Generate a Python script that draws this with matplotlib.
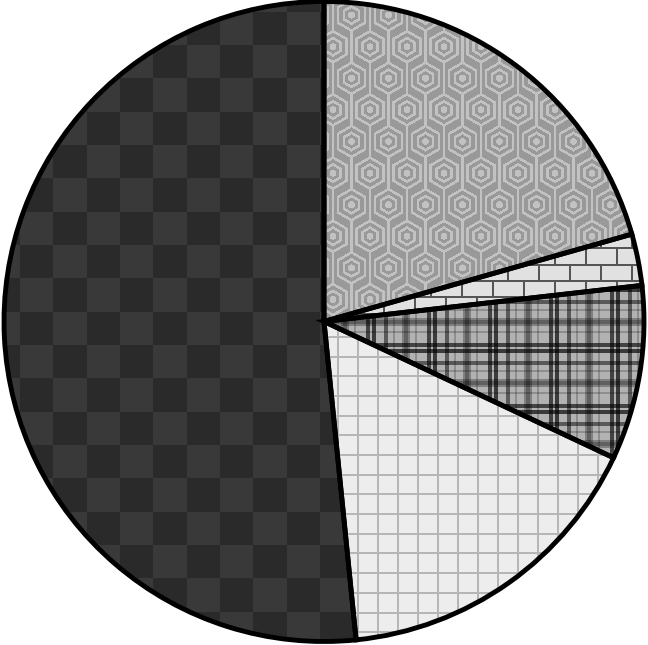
import numpy as np
import matplotlib
matplotlib.use("Agg")
import matplotlib.pyplot as plt

# ---- data ----
labels = ["Hexagons", "Bricks", "Plaid", "Grid", "Checkerboard"]
values = [20.6, 2.6, 8.8, 16.4, 51.6]

W, H = 648, 645
CX, CY, R = 324.0, 321.5, 320.0

fig = plt.figure(figsize=(6.48, 6.45), dpi=100)
ax = fig.add_axes([0, 0, 1, 1])

wedges, _ = ax.pie(values, labels=None, startangle=-90, counterclock=True,
                   center=(CX, CY), radius=R,
                   wedgeprops=dict(facecolor="none", edgecolor="black",
                                   linewidth=3.5, zorder=3))

# ---- textures (pixel space) ----
X, Y = np.meshgrid(np.arange(W) + 0.5, np.arange(H) + 0.5)


def gray(a):
    a = np.clip(a, 0, 255).astype(np.uint8)
    return np.dstack([a, a, a])


def hex_tex():
    def hexnorm(dx, dy):
        adx, ady = np.abs(dx), np.abs(dy)
        return np.maximum(adx * 2 / np.sqrt(3), adx / np.sqrt(3) + ady)

    px, py = 37.0, 63.2
    hs = []
    for x0, y0 in [(370.0, 46.7), (351.5, 78.3)]:
        dx = np.mod(X - x0 + px / 2, px) - px / 2
        dy = np.mod(Y - y0 + py / 2, py) - py / 2
        hs.append((hexnorm(dx, dy), np.hypot(dx, dy)))
    h = np.minimum(hs[0][0], hs[1][0])
    r = np.minimum(hs[0][1], hs[1][1])
    lw = 1.5
    ro, ri = 15.5, 8.6
    light = (np.abs(h - ro) < lw) | (np.abs(h - ri) < lw) | (r < 3.5)
    col = np.mod(X - 370.0 + 9.25, 18.5) - 9.25
    light |= (np.abs(col) < lw) & (h > ro)
    a = np.where(light, 194, 153)
    return gray(a)


def brick_tex():
    bh, bw = 16.3, 31.0
    ty = Y - 247.3
    row = np.floor(ty / bh)
    mort_h = np.mod(ty, bh) < 2.0
    off = 555.0 - np.where(np.mod(row, 2) == 1, 15.5, 0.0)
    mort_v = np.mod(X - off + 1.0, bw) < 2.0
    a = np.where(mort_h | mort_v, 85, 225)
    return gray(a)


def plaid_tex():
    P = 61.0
    sett = [(0, 8, 0.72), (2, 4, 0.75), (13, 2, 0.8), (25, 4, 0.38),
            (31, 4, 0.33), (43, 4, 0.5), (52, 2, 0.8)]

    def fac(t):
        t = np.mod(t, P)
        f = np.ones_like(t)
        for o, w, d in sett:
            f = np.where((t >= o) & (t < o + w), f * d, f)
        return f

    a = 178 * fac(X - 402.0) * fac(Y - 318.0)
    return gray(a)


def grid_tex():
    lx = np.mod(X - 358.3 + 1.0, 20.0) < 2.0
    ly = np.mod(Y - 455.0 + 1.0, 19.7) < 2.0
    a = np.where(lx | ly, 182, 237)
    return gray(a)


def checker_tex():
    s = 33.33
    i = np.floor((X - 120.0) / s)
    j = np.floor((Y - 211.7) / s)
    a = np.where(np.mod(i + j, 2) == 0, 42, 57)
    return gray(a)


textures = [hex_tex(), brick_tex(), plaid_tex(), grid_tex(), checker_tex()]

for w, tex in zip(wedges, textures):
    im = ax.imshow(tex, extent=(0, W, H, 0), origin="upper",
                   interpolation="nearest", zorder=1)
    im.set_clip_path(w)

ax.set_xlim(0, W)
ax.set_ylim(H, 0)
ax.set_aspect("equal")
ax.axis("off")

fig.savefig("out.png", dpi=100, facecolor="white")
